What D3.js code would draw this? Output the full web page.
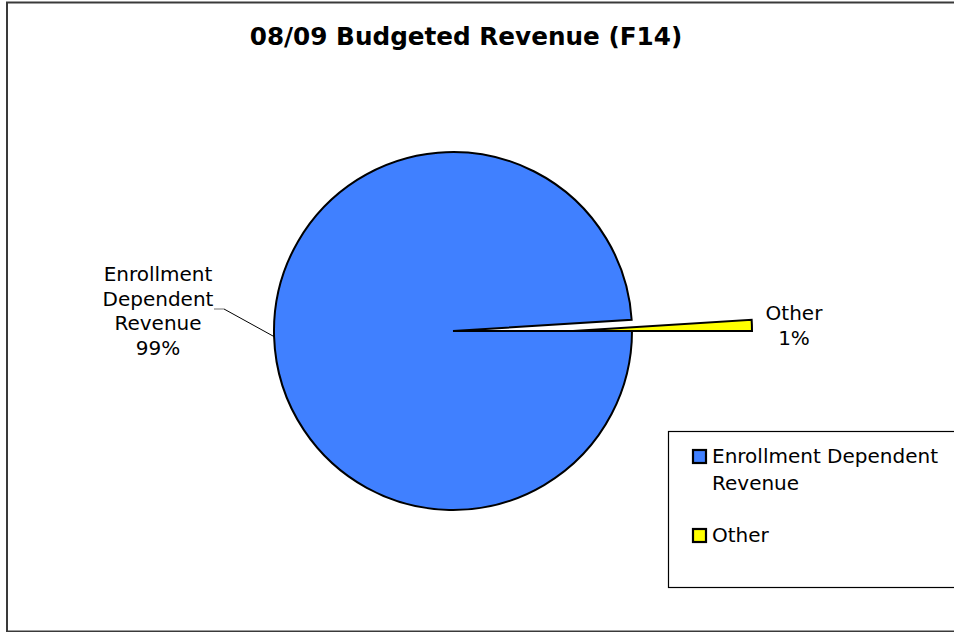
<!DOCTYPE html>
<html>
<head>
<meta charset="utf-8">
<script src="https://cdn.jsdelivr.net/npm/d3@7/dist/d3.min.js"></script>
<style>
  html, body { margin: 0; padding: 0; background: #fff; }
  svg { display: block; font-family: "DejaVu Sans", Verdana, sans-serif; }
</style>
</head>
<body>
<svg id="chart" width="954" height="632"></svg>
<script>
// Revenue categories and their shares (percent)
const categories = ["Enrollment Dependent Revenue", "Other"];
const shares = [99, 1];
const sliceColors = ["#4080FF", "#FFFF00"];
const chartTitle = "08/09 Budgeted Revenue (F14)";

const svg = d3.select("#chart");

// Outer chart frame
svg.append("rect")
  .attr("x", 7).attr("y", 2.5)
  .attr("width", 1000).attr("height", 629)
  .attr("fill", "#fff")
  .attr("stroke", "#3a3a3a").attr("stroke-width", 2);

// Title
svg.append("text")
  .attr("x", 466).attr("y", 45)
  .attr("text-anchor", "middle")
  .attr("font-size", 24.7).attr("font-weight", "bold")
  .attr("fill", "#000")
  .text(chartTitle);

// Pie geometry
const cx = 453, cy = 331, radius = 179;
const explode = 120; // pull-out distance for the small slice

const pie = d3.pie().sort(null)
  .startAngle(Math.PI / 2)
  .endAngle(Math.PI / 2 + 2 * Math.PI);
const arcs = pie(shares);
const arc = d3.arc().innerRadius(0).outerRadius(radius);

const g = svg.append("g").attr("transform", `translate(${cx},${cy})`);

g.selectAll("path.slice")
  .data(arcs)
  .join("path")
  .attr("class", "slice")
  .attr("transform", (d, i) => i === 1 ? `translate(${explode},0)` : null)
  .attr("d", arc)
  .attr("fill", (d, i) => sliceColors[i])
  .attr("stroke", "#000")
  .attr("stroke-width", 2)
  .attr("stroke-linejoin", "miter");

// Data labels
const fontSize = 20, lineH = 24.5;

// Big slice: label on the left with a leader line
const big = arcs[0];
const bigMid = (big.startAngle + big.endAngle) / 2;
const edge = [radius * Math.sin(bigMid), -radius * Math.cos(bigMid)];
const bend = [224 - cx, 309 - cy];
g.append("path")
  .attr("d", `M${bend[0]},${bend[1]}L${edge[0]},${edge[1]}`)
  .attr("stroke", "#000").attr("stroke-width", 1).attr("fill", "none");
g.append("path")
  .attr("d", `M${bend[0] - 10},${bend[1]}L${bend[0]},${bend[1]}`)
  .attr("stroke", "#888").attr("stroke-width", 1.2).attr("fill", "none");

const bigLines = ["Enrollment", "Dependent", "Revenue", shares[0] + "%"];
svg.append("text")
  .attr("text-anchor", "middle")
  .attr("font-size", fontSize).attr("fill", "#000")
  .selectAll("tspan")
  .data(bigLines)
  .join("tspan")
  .attr("x", 158)
  .attr("y", (d, i) => 281 + i * lineH)
  .text(d => d);

// Small slice label, beyond the pulled-out wedge
const smallLines = [categories[1], shares[1] + "%"];
svg.append("text")
  .attr("text-anchor", "middle")
  .attr("font-size", fontSize).attr("fill", "#000")
  .selectAll("tspan")
  .data(smallLines)
  .join("tspan")
  .attr("x", cx + radius + explode + 42)
  .attr("y", (d, i) => 320 + i * lineH)
  .text(d => d);

// Legend
const legend = svg.append("g");
legend.append("rect")
  .attr("x", 668.5).attr("y", 431.5)
  .attr("width", 400).attr("height", 156)
  .attr("fill", "#fff").attr("stroke", "#000").attr("stroke-width", 1.2);

const legendRows = [
  { lines: ["Enrollment Dependent", "Revenue"], y: 463 },
  { lines: [categories[1]], y: 542 }
];
legendRows.forEach((row, i) => {
  legend.append("rect")
    .attr("x", 693).attr("y", row.y - 13)
    .attr("width", 13).attr("height", 13)
    .attr("fill", sliceColors[i]).attr("stroke", "#000").attr("stroke-width", 2.2);
  legend.append("text")
    .attr("font-size", fontSize).attr("fill", "#000")
    .selectAll("tspan")
    .data(row.lines)
    .join("tspan")
    .attr("x", 712)
    .attr("y", (d, j) => row.y + j * 27)
    .text(d => d);
});
</script>
</body>
</html>
